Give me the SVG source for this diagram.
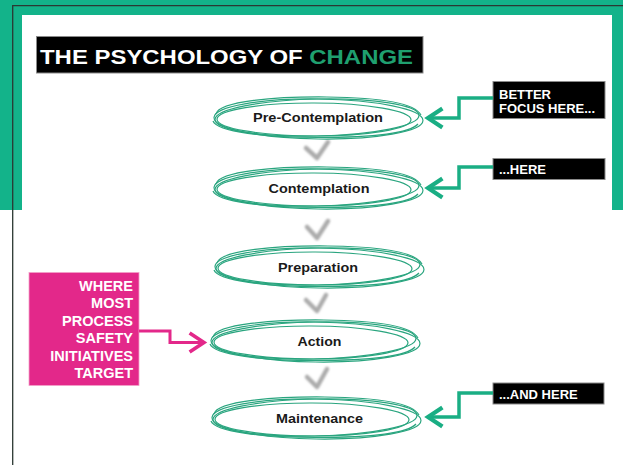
<svg xmlns="http://www.w3.org/2000/svg" xmlns:xlink="http://www.w3.org/1999/xlink" width="623" height="465" viewBox="0 0 623 465">
<style>
.stage{font-family:"Liberation Sans",Arial,sans-serif;font-weight:bold;font-size:13.5px;fill:#1a1a1a;text-anchor:middle}
.lbl{font-family:"Liberation Sans",Arial,sans-serif;font-weight:bold;font-size:13px;fill:#ffffff}
.pink{font-family:"Liberation Sans",Arial,sans-serif;font-weight:bold;font-size:14.5px;fill:#ffffff;text-anchor:end}
.box{fill:#000000;stroke:#8a8a8a;stroke-width:1}
.garrow{fill:none;stroke:#1aae84;stroke-width:3.5;stroke-linejoin:miter}
.parrow{fill:none;stroke:#e3288a;stroke-width:3;stroke-linejoin:miter}
.check{fill:none;stroke:#acacac;stroke-width:4.5;stroke-linecap:round;stroke-linejoin:round;filter:url(#soft)}
</style>
<defs>
<filter id="soft" x="-20%" y="-20%" width="140%" height="140%"><feGaussianBlur stdDeviation="0.8"/></filter>
<g id="ovalShape" fill="none" stroke="#2aa57f" stroke-width="1.2">
<ellipse cx="0" cy="-0.5" rx="102" ry="18.5" transform="rotate(-1.2)"/>
<ellipse cx="1.5" cy="1" rx="104.5" ry="20" transform="rotate(0.8)"/>
<ellipse cx="-3" cy="1.5" rx="97" ry="16.5" transform="rotate(0.2)"/>
<path d="M-101,-4 C-98,-17 -40,-21.5 10,-21 C60,-20.5 97,-16 104,-3"/>
<path d="M-104,3 C-100,14 -50,19.5 0,19.5 C50,19.5 92,16 101,6"/>
</g>
<marker id="gHead" markerUnits="userSpaceOnUse" markerWidth="24" markerHeight="24" viewBox="-14 -10 18 20" refX="0" refY="0" orient="auto">
<path d="M-12,-8 L0,0 L-12,8" fill="none" stroke="#1aae84" stroke-width="3.5"/>
</marker>
<marker id="pHead" markerUnits="userSpaceOnUse" markerWidth="24" markerHeight="24" viewBox="-14 -10 18 20" refX="0" refY="0" orient="auto">
<path d="M-12,-8 L0,0 L-12,8" fill="none" stroke="#e3288a" stroke-width="3"/>
</marker>
</defs>

<g id="background">
<rect x="0" y="0" width="623" height="465" fill="#ffffff"/>
<rect x="0" y="0" width="623" height="210" fill="#13b38a"/>
<rect x="22" y="15" width="590" height="450" fill="#ffffff"/>
<path d="M12.7,465 V5.7 H623" fill="none" stroke="#2b3833" stroke-width="1.3"/>
</g>

<g id="title">
<rect x="36.5" y="36.5" width="386.5" height="36.5" fill="#000000" stroke="#8a8a8a" stroke-width="1"/>
<text x="40" y="63.5" font-family="'Liberation Sans',Arial,sans-serif" font-weight="bold" font-size="21" fill="#ffffff" textLength="373" lengthAdjust="spacingAndGlyphs">THE PSYCHOLOGY OF <tspan fill="#1f9f6f">CHANGE</tspan></text>
</g>

<g id="checks">
<path class="check" d="M306,148 L317,158 L328,142"/>
<path class="check" d="M307,227 L317,238 L328,221"/>
<path class="check" d="M306,300 L317,311 L326,295"/>
<path class="check" d="M307,377 L317,387 L327,369"/>
</g>

<g id="node-precontemplation">
<use xlink:href="#ovalShape" href="#ovalShape" x="317" y="118"/>
<text class="stage" x="318" y="121.5" textLength="130" lengthAdjust="spacingAndGlyphs">Pre-Contemplation</text>
</g>
<g id="node-contemplation">
<use xlink:href="#ovalShape" href="#ovalShape" x="317" y="188"/>
<text class="stage" x="319" y="193" textLength="101" lengthAdjust="spacingAndGlyphs">Contemplation</text>
</g>
<g id="node-preparation">
<use xlink:href="#ovalShape" href="#ovalShape" x="318" y="267"/>
<text class="stage" x="318" y="272" textLength="80" lengthAdjust="spacingAndGlyphs">Preparation</text>
</g>
<g id="node-action">
<use xlink:href="#ovalShape" href="#ovalShape" x="314" y="341"/>
<text class="stage" x="319.5" y="345.5" textLength="44" lengthAdjust="spacingAndGlyphs">Action</text>
</g>
<g id="node-maintenance">
<use xlink:href="#ovalShape" href="#ovalShape" x="315" y="418"/>
<text class="stage" x="319.5" y="423" textLength="87" lengthAdjust="spacingAndGlyphs">Maintenance</text>
</g>

<g id="label-better-focus">
<rect class="box" x="493" y="81.5" width="112" height="37"/>
<text class="lbl" x="499" y="98.5">BETTER</text>
<text class="lbl" x="499" y="112.8">FOCUS HERE...</text>
</g>
<g id="label-here">
<rect class="box" x="493" y="158.5" width="112" height="21"/>
<text class="lbl" x="499" y="173.5">...HERE</text>
</g>
<g id="label-and-here">
<rect class="box" x="493" y="383" width="111" height="21"/>
<text class="lbl" x="499" y="399">...AND HERE</text>
</g>
<g id="label-process-safety">
<rect x="29" y="272.5" width="110" height="113" fill="#e3288a" stroke="#f2a0c8" stroke-width="0.8"/>
<text class="pink" x="133" y="290.7">WHERE</text>
<text class="pink" x="133" y="308.2">MOST</text>
<text class="pink" x="133" y="325.7">PROCESS</text>
<text class="pink" x="133" y="343.2">SAFETY</text>
<text class="pink" x="133" y="360.7">INITIATIVES</text>
<text class="pink" x="133" y="377.7">TARGET</text>
</g>

<g id="connectors">
<polyline class="garrow" points="493,98 459,98 459,118 428,118" marker-end="url(#gHead)"/>
<polyline class="garrow" points="493,167 459,167 459,188 428,188" marker-end="url(#gHead)"/>
<polyline class="garrow" points="493,393 459,393 459,417 428,417" marker-end="url(#gHead)"/>
<polyline class="parrow" points="139,331 170,331 170,342.5 204,342.5" marker-end="url(#pHead)"/>
</g>
</svg>
